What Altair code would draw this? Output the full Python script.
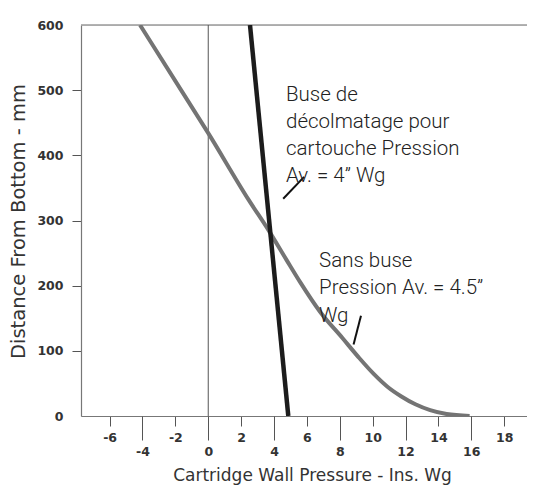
import altair as alt
import pandas as pd

# Curve "Sans buse" (gray)
gray_x = [-4.15, -1.65, 0.0, 2.45, 3.72, 4.75, 5.6, 6.8, 8.15, 9.15, 10.05, 10.9, 11.75, 12.6, 13.5, 14.5, 15.9]
gray_y = [600, 500, 434, 332, 283, 240, 205, 160, 120, 90, 65, 45, 30, 18, 9, 3, 0]
# Curve "Buse de décolmatage" (black)
black_x = [2.54, 4.87]
black_y = [600, 0]

x_ticks_row1 = [-6, -2, 2, 6, 10, 14, 18]
x_ticks_row2 = [-4, 0, 4, 8, 12, 16]
y_ticks = [0, 100, 200, 300, 400, 500, 600]

label1 = ["Buse de", "décolmatage pour", "cartouche Pression", "Av. = 4\u201d Wg"]
label1_pos = (4.73, 483.5)
label2 = ["Sans buse", "Pression Av. = 4.5\u201d", "Wg"]
label2_pos = (6.74, 229.1)

pointer_x = [4.56, 8.84]
pointer_y = [333.3, 109.6]
pointer_x2 = [5.83, 9.29]
pointer_y2 = [367.0, 154.0]

x_domain = [-7.74, 19.39]
y_domain = [0, 600]

gray_df = pd.DataFrame({"x": gray_x, "y": gray_y, "o": list(range(len(gray_x)))})
black_df = pd.DataFrame({"x": black_x, "y": black_y, "o": list(range(len(black_x)))})
ptr_df = pd.DataFrame({"x": pointer_x, "y": pointer_y, "x2": pointer_x2, "y2": pointer_y2})

xs = alt.Scale(domain=x_domain, nice=False, zero=False)
ys = alt.Scale(domain=y_domain, nice=False, zero=False)

LBL = dict(labelFont="DejaVu Sans", labelFontSize=12.5, labelFontWeight="bold", labelColor="#333")

x_axis_a = alt.Axis(
    values=x_ticks_row1, title="Cartridge Wall Pressure - Ins. Wg", grid=False, orient="bottom",
    labelExpr="datum.value + ''", labelOverlap=False, **LBL,
    tickColor="#555", tickWidth=1, tickSize=10, labelPadding=5,
    domainColor="#777", domainWidth=1.2,
    titleFont="DejaVu Sans", titleFontSize=17, titleFontWeight="normal", titleColor="#333",
    titleX=231, titleY=64, titleAnchor="middle", titleBaseline="alphabetic", titleAlign="center",
)
x_axis_b = alt.Axis(
    values=x_ticks_row2, title=None, grid=False, orient="bottom", domain=False,
    labelExpr="datum.value + ''", labelOverlap=False, **LBL,
    tickColor="#555", tickWidth=1, tickSize=24, labelPadding=5,
)
y_axis = alt.Axis(
    values=y_ticks, title="Distance From Bottom - mm", grid=False, labelOverlap=False, **LBL,
    tickColor="#555", tickWidth=1, tickSize=9, labelPadding=9,
    tickOpacity={"condition": {"test": "datum.value == 0 || datum.value == 600", "value": 0}, "value": 1},
    domainColor="#777", domainWidth=1.2,
    titleFont="DejaVu Sans", titleFontSize=19.5, titleFontWeight="normal", titleColor="#333",
    titleX=-63, titleY=196, titleAngle=-90, titleBaseline="middle", titleAlign="center",
)

gray = alt.Chart(gray_df).mark_line(
    color="#747474", strokeWidth=4, interpolate="monotone", clip=True
).encode(
    x=alt.X("x:Q", scale=xs, axis=x_axis_a),
    y=alt.Y("y:Q", scale=ys, axis=y_axis),
    order="o:Q",
)

black = alt.Chart(black_df).mark_line(color="#1c1c1c", strokeWidth=4.5, clip=True).encode(
    x=alt.X("x:Q", scale=xs, axis=x_axis_b), y=alt.Y("y:Q", scale=ys), order="o:Q"
)

top_rule = alt.Chart(pd.DataFrame({"y": [600]})).mark_rule(color="#9a9a9a", strokeWidth=1.5).encode(
    y=alt.Y("y:Q", scale=ys)
)
zero_rule = alt.Chart(pd.DataFrame({"x": [0]})).mark_rule(color="#555", strokeWidth=1).encode(
    x=alt.X("x:Q", scale=xs, axis=None)
)

pointers = alt.Chart(ptr_df).mark_rule(color="#111", strokeWidth=2).encode(
    x=alt.X("x:Q", scale=xs, axis=None), y=alt.Y("y:Q", scale=ys), x2="x2:Q", y2="y2:Q"
)

t1 = alt.Chart(pd.DataFrame({"x": [label1_pos[0]], "y": [label1_pos[1]]})).mark_text(
    text=label1, align="left", baseline="alphabetic", font="Roboto", fontSize=20.5,
    fontWeight=300, lineHeight=27, color="#222"
).encode(x=alt.X("x:Q", scale=xs, axis=None), y=alt.Y("y:Q", scale=ys))

t2 = alt.Chart(pd.DataFrame({"x": [label2_pos[0]], "y": [label2_pos[1]]})).mark_text(
    text=label2, align="left", baseline="alphabetic", font="Roboto", fontSize=20.5,
    fontWeight=300, lineHeight=27.5, color="#222"
).encode(x=alt.X("x:Q", scale=xs, axis=None), y=alt.Y("y:Q", scale=ys))

chart = alt.layer(top_rule, zero_rule, gray, black, pointers, t1, t2).resolve_scale(
    x="shared"
).resolve_axis(x="independent").properties(
    width=446, height=391,
    autosize=alt.AutoSizeParams(type="none"),
    padding={"left": 73, "top": 17, "right": 0, "bottom": 69},
).configure_view(stroke=None).configure(background="white")

chart.save("out.html", embed_options={"renderer": "svg", "actions": False})
